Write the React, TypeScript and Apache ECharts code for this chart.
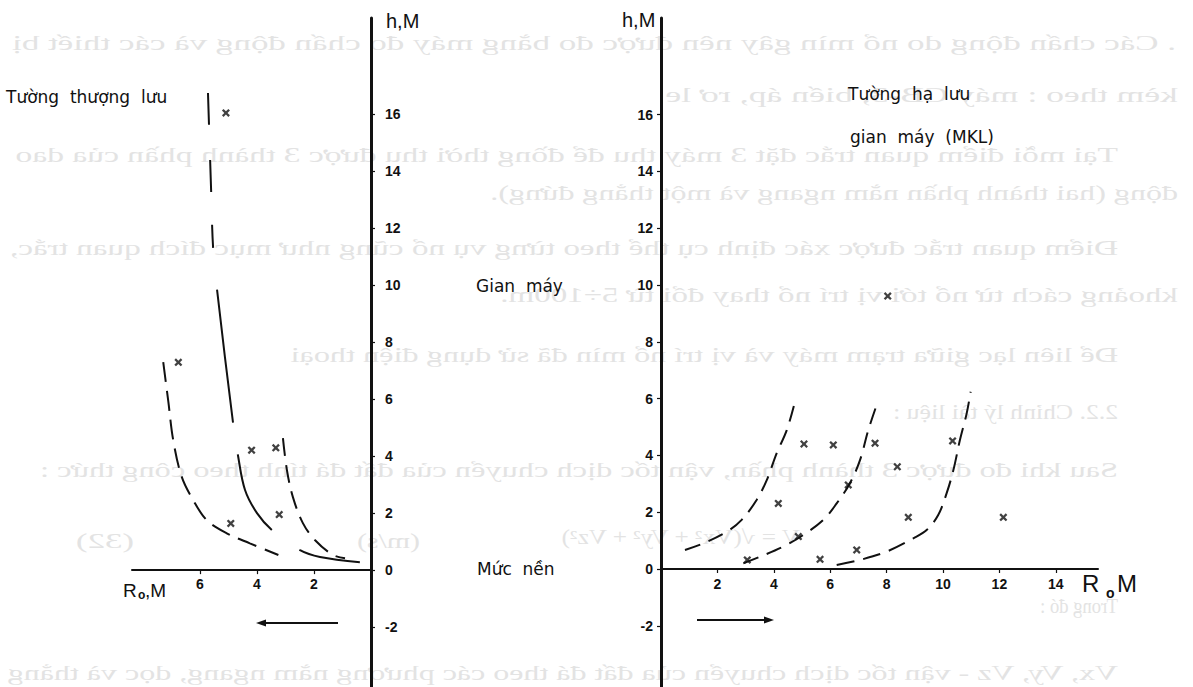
import React, { useEffect, useRef } from "react";
import * as echarts from "echarts";

// tick values
const hTicks = [-2, 0, 2, 4, 6, 8, 10, 12, 14, 16];
const leftRTicks = [2, 4, 6];
const rightRTicks = [2, 4, 6, 8, 10, 12, 14];

// Left panel (Tường thượng lưu): [R0 (m), h (m)]
const leftCrosses = [
  [5.09, 16.04], [6.76, 7.29], [4.19, 4.21], [3.34, 4.29], [4.92, 1.64], [3.22, 1.95],
];
const leftOuter = [
  [7.29, 7.3], [7.11, 5.9], [6.94, 4.56], [6.64, 3.27], [6.24, 2.46], [5.76, 1.75],
  [5.06, 1.29], [4.25, 0.94], [3.25, 0.53],
];
const leftMiddle = [
  [5.72, 16.74], [5.61, 13.33], [5.54, 11.3], [5.4, 9.82], [4.84, 5.16], [4.67, 4.04],
  [4.42, 2.81], [4.0, 2.0], [3.47, 1.4], [2.49, 0.7], [1.79, 0.46], [0.39, 0.28],
];
const leftInner = [
  [3.09, 4.63], [2.95, 3.51], [2.74, 2.56], [2.39, 1.65], [1.96, 1.05], [1.33, 0.53], [0.91, 0.42],
];

// Right panel (Tường hạ lưu gian máy): [R0 (m), h (m)]
const rightCrosses = [
  [5.07, 4.4], [6.11, 4.37], [7.59, 4.43], [10.34, 4.51], [8.38, 3.6], [6.64, 2.96],
  [4.16, 2.31], [8.77, 1.82], [12.14, 1.82], [4.87, 1.14], [6.94, 0.67], [3.06, 0.32],
  [5.64, 0.34], [8.04, 9.61],
];
const rightCircles = [[7.15, 4.43], [6.23, 2.84], [5.54, 1.47]];
const rightCurveA = [
  [0.85, 0.67], [1.5, 0.9], [2.33, 1.31], [2.86, 1.73], [3.39, 2.43], [3.75, 3.13],
  [4.1, 4.07], [4.46, 4.89], [4.75, 5.89],
];
const rightCurveB = [
  [2.92, 0.2], [3.51, 0.43], [4.34, 0.79], [5.05, 1.2], [5.76, 1.73], [6.23, 2.31],
  [6.7, 3.02], [7.06, 3.84], [7.35, 4.89], [7.71, 5.95],
];
const rightCurveC = [
  [6.23, 0.14], [7.06, 0.32], [8.0, 0.61], [8.95, 1.08], [9.42, 1.37], [9.83, 1.9],
  [10.13, 2.67], [10.37, 3.49], [10.6, 4.54], [10.84, 5.48], [10.98, 6.24],
];

// Faint text showing through from the back of the scanned page (mirrored)
const bleedTexts = [
  ". Các chấn động do nổ mìn gây nên được đo bằng máy đo chấn động và các thiết bị",
  "kèm theo : máy CB-3, biến áp, rơ le",
  "Tại mỗi điểm quan trắc đặt 3 máy thu để đồng thời thu được 3 thành phần của dao",
  "động (hai thành phần nằm ngang và một thẳng đứng).",
  "Điểm quan trắc được xác định cụ thể theo từng vụ nổ cũng như mục đích quan trắc,",
  "khoảng cách từ nổ tới vị trí nổ thay đổi từ 5÷100m.",
  "Để liên lạc giữa trạm máy và vị trí nổ mìn đã sử dụng điện thoại",
  "2.2. Chỉnh lý tài liệu :",
  "Sau khi đo được 3 thành phần, vận tốc dịch chuyển của đất đá tính theo công thức :",
  "V = √(Vx² + Vy² + Vz²)",
  "(m/s)",
  "(32)",
  "Trong đó :",
  "Vx, Vy, Vz - vận tốc dịch chuyển của đất đá theo các phương nằm ngang, dọc và thẳng",
];
// layout of those lines: [middle y, right x, left x]
const bleedPos = [
  [43, 1176, 12], [95, 1178, 665], [155, 1118, 15], [193, 1178, 490], [248, 1118, 10],
  [295, 1178, 500], [355, 1118, 290], [412, 1118, 893], [470, 1118, 40], [537, 800, 560],
  [541, 420, 357], [541, 134, 76], [606, 1118, 1040], [673, 1118, 6],
];

const INK = "#111";
const GHOST = "#e3e3e3";
const NARROW = "'Liberation Sans Narrow', 'Liberation Sans', Arial, sans-serif";
const SANS = "'DejaVu Sans', 'Noto Sans', sans-serif";
const SERIF = "'Liberation Serif', 'DejaVu Serif', serif";
const CROSS = "path://M0,2L2,0L5,3L8,0L10,2L7,5L10,8L8,10L5,7L2,10L0,8L3,5Z";

function curve(data: number[][], gi: number, dash: number[], width = 2) {
  return {
    type: "line",
    xAxisIndex: gi,
    yAxisIndex: gi,
    data,
    smooth: 0.35,
    showSymbol: false,
    symbol: "none",
    silent: true,
    lineStyle: { color: INK, width, type: dash, cap: "butt" },
  };
}

function scatter(data: number[][], gi: number, symbol: string, size: number) {
  return {
    type: "scatter",
    xAxisIndex: gi,
    yAxisIndex: gi,
    data,
    symbol,
    symbolSize: size,
    silent: true,
    itemStyle:
      symbol === "emptyCircle"
        ? { color: "#fff", borderColor: INK, borderWidth: 1.6 }
        : { color: INK },
  };
}

function txt(text: string, x: number, y: number, size: number, family = SANS, extra: any = {}) {
  return {
    type: "text",
    x,
    y,
    z: 10,
    silent: true,
    style: { text, fill: INK, fontSize: size, fontFamily: family, verticalAlign: "middle", ...extra },
  };
}

export default function App() {
  const ref = useRef<HTMLDivElement>(null);
  useEffect(() => {
    if (!ref.current) return;
    const chart = echarts.init(ref.current, undefined, { renderer: "svg" });

    const ctx = document.createElement("canvas").getContext("2d");
    const ghostSize = 20;
    if (ctx) ctx.font = `${ghostSize}px 'Liberation Serif'`;
    // mirrored: scaleY -1 combined with a half-turn gives a horizontal flip
    const ghosts = bleedTexts.map((t, i) => {
      const [y, right, left] = bleedPos[i];
      const natural = ctx ? ctx.measureText(t).width : t.length * 9;
      return {
        type: "text",
        x: right,
        y,
        rotation: Math.PI,
        scaleX: (right - left) / natural,
        scaleY: -1,
        z: -5,
        silent: true,
        style: { text: t, fill: GHOST, fontSize: ghostSize, fontFamily: SERIF, verticalAlign: "middle", align: "left" },
      };
    });

    const labelStyle = { color: INK, fontSize: 14, fontWeight: "bold", fontFamily: NARROW };
    const tickStyle = { show: true, inside: false, length: 4, lineStyle: { color: INK, width: 1.2 } };
    const yAxisBase = (gi: number, pos: string, margin: number, min: number, max: number) => ({
      type: "value",
      gridIndex: gi,
      position: pos,
      min,
      max,
      axisLine: { show: true, onZero: true, lineStyle: { color: INK, width: 3 } },
      axisTick: { ...tickStyle, customValues: hTicks },
      axisLabel: { show: true, customValues: hTicks, margin, ...labelStyle },
      splitLine: { show: false },
    });
    const xAxisBase = (gi: number, inverse: boolean, max: number, ticks: number[], main: boolean, margin: number) => ({
      type: "value",
      gridIndex: gi,
      inverse,
      min: 0,
      max,
      axisLine: { show: main, onZero: true, lineStyle: { color: INK, width: 2 } },
      axisTick: main ? { ...tickStyle, customValues: ticks } : { show: false },
      axisLabel: main ? { show: false } : { show: true, customValues: ticks, margin, ...labelStyle },
      splitLine: { show: false },
    });
    const hiddenY = (gi: number) => ({ type: "value", gridIndex: gi, show: false, min: 0, max: 1 });
    const gridBase = { containLabel: false, outerBoundsMode: "none" };

    const option: any = {
      animation: false,
      backgroundColor: "#fff",
      grid: [
        { left: 132, top: 18, width: 239, height: 669, ...gridBase },
        { left: 661, top: 18, width: 437, height: 669, ...gridBase },
        { left: 132, top: 560, width: 239, height: 10, ...gridBase },
        { left: 661, top: 559, width: 437, height: 10, ...gridBase },
      ],
      xAxis: [
        xAxisBase(0, true, 239 / 28.5, leftRTicks, true, 0),
        xAxisBase(1, false, 437 / 28.2, rightRTicks, true, 0),
        xAxisBase(2, true, 239 / 28.5, leftRTicks, false, 7),
        xAxisBase(3, false, 437 / 28.2, rightRTicks, false, 8),
      ],
      yAxis: [
        yAxisBase(0, "right", 14, -4.1, 19.37),
        yAxisBase(1, "left", 8, -4.155, 19.4),
        hiddenY(2),
        hiddenY(3),
      ],
      series: [
        curve(leftOuter, 0, [20, 9]),
        curve(leftMiddle, 0, [32, 35, 32, 33, 23, 42, 134, 32, 85, 34, 62, 100]),
        curve(leftInner, 0, [18, 9]),
        scatter(leftCrosses, 0, CROSS, 8),
        curve(rightCurveA, 1, [16, 9]),
        curve(rightCurveB, 1, [16, 9]),
        curve(rightCurveC, 1, [18, 9]),
        scatter(rightCrosses, 1, CROSS, 8),
        scatter(rightCircles, 1, "emptyCircle", 6),
      ],
      graphic: [
        ...ghosts,
        txt("Tường  thượng  lưu", 6, 97, 17),
        txt("Gian  máy", 476, 286, 17),
        txt("Mức  nền", 477, 569, 17),
        txt("Tường  hạ  lưu", 848, 94, 17),
        txt("gian  máy  (MKL)", 850, 137, 17),
        txt("h,M", 386, 21, 20, NARROW),
        txt("h,M", 622, 20, 20, NARROW),
        txt("R", 123, 590, 19, NARROW),
        txt("o", 138, 595, 12, NARROW, { fontWeight: "bold" }),
        txt(",M", 145, 590, 19, NARROW),
        txt("R", 1082, 583, 24, NARROW),
        txt("o", 1106, 593, 14, NARROW, { fontWeight: "bold" }),
        txt("M", 1117, 583, 24, NARROW),
        // direction arrows
        { type: "line", silent: true, shape: { x1: 338, y1: 623, x2: 262, y2: 623 }, style: { stroke: INK, lineWidth: 2 } },
        { type: "polygon", silent: true, shape: { points: [[256, 623], [266, 619.5], [266, 626.5]] }, style: { fill: INK } },
        { type: "line", silent: true, shape: { x1: 697, y1: 620, x2: 768, y2: 620 }, style: { stroke: INK, lineWidth: 2 } },
        { type: "polygon", silent: true, shape: { points: [[774, 620], [764, 616.5], [764, 623.5]] }, style: { fill: INK } },
      ],
    };
    chart.setOption(option);
    return () => chart.dispose();
  }, []);
  return (
    <div
      ref={ref}
      style={{ position: "fixed", left: 0, top: 0, width: 1193, height: 687, background: "#fff" }}
    />
  );
}
